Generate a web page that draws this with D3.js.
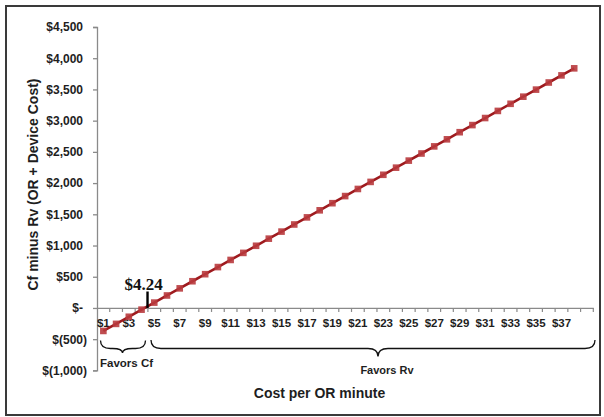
<!DOCTYPE html>
<html>
<head>
<meta charset="utf-8">
<script src="https://cdn.jsdelivr.net/npm/d3@7"></script>
<style>
  html, body { margin: 0; padding: 0; background: #fff; }
  svg { display: block; }
</style>
</head>
<body>
<svg id="chart" width="604" height="417"></svg>
<script>
// ---- data ----
const categories = ["$1","$2","$3","$4","$5","$6","$7","$8","$9","$10",
  "$11","$12","$13","$14","$15","$16","$17","$18","$19","$20",
  "$21","$22","$23","$24","$25","$26","$27","$28","$29","$30",
  "$31","$32","$33","$34","$35","$36","$37","$38",""];
const values = [-368, -255, -141, -27, 86, 200, 314, 428, 541, 655,
  769, 882, 996, 1110, 1223, 1337, 1451, 1564, 1678, 1792,
  1906, 2019, 2133, 2247, 2360, 2474, 2588, 2701, 2815, 2929,
  3042, 3156, 3270, 3384, 3497, 3611, 3725, 3838];
const yTickValues = [-1000, -500, 0, 500, 1000, 1500, 2000, 2500, 3000, 3500, 4000, 4500];
const yTickLabels = ["$(1,000)", "$(500)", "$-", "$500", "$1,000", "$1,500", "$2,000", "$2,500", "$3,000", "$3,500", "$4,000", "$4,500"];
const xLabelCats = ["$1","$3","$5","$7","$9","$11","$13","$15","$17","$19","$21","$23","$25","$27","$29","$31","$33","$35","$37"];
const breakEvenLabel = "$4.24";
const breakEvenPos = 4.47; // position on category axis where the annotation sits
const yTitle = "Cf minus Rv (OR + Device Cost)";
const xTitle = "Cost per OR minute";
const leftBraceLabel = "Favors Cf";
const rightBraceLabel = "Favors Rv";

const SANS = "'Liberation Sans', Arial, sans-serif";
const SERIF = "'Liberation Serif', 'Times New Roman', serif";

// ---- layout ----
const svg = d3.select("#chart");
const plot = { left: 97, right: 593.3, top: 27, bottom: 370.4 };

svg.append("rect").attr("x", 6).attr("y", 6).attr("width", 594).attr("height", 409)
  .attr("fill", "#fff").attr("stroke", "#3a3a3a").attr("stroke-width", 2);

const x = d3.scaleBand().domain(categories).range([plot.left, plot.right]).padding(0);
const bw = x.bandwidth();
const y = d3.scaleLinear().domain([-1000, 4500]).range([plot.bottom, plot.top]);
const cx = c => x(c) + bw / 2;
// numeric category position (1 = "$1")
const xNum = v => plot.left + (v - 0.5) * bw;

// y axis
const yAxis = d3.axisLeft(y).tickValues(yTickValues)
  .tickFormat((d, i) => yTickLabels[i]).tickSize(4).tickPadding(10);
const gy = svg.append("g").attr("transform", `translate(${plot.left},0)`).call(yAxis);
gy.select(".domain").attr("stroke", "#8a8a8a").attr("stroke-width", 1.3);
gy.selectAll(".tick line").attr("stroke", "#8a8a8a").attr("stroke-width", 1.3);
gy.selectAll(".tick text").attr("font-size", 12).attr("font-weight", "bold")
  .attr("fill", "#1e1e1e").attr("font-family", SANS)
  .attr("dx", d => d < 0 ? 4 : 0);

// x axis at zero, labels every other category
const xAxis = d3.axisBottom(x).tickValues(xLabelCats).tickSize(0).tickPadding(11);
const gx = svg.append("g").attr("transform", `translate(0,${y(0)})`).call(xAxis);
gx.select(".domain").attr("stroke", "#8a8a8a").attr("stroke-width", 1.3);
gx.selectAll(".tick text").attr("font-size", 11.5).attr("font-weight", "bold")
  .attr("fill", "#1e1e1e").attr("font-family", SANS);
// tick marks at category boundaries
const boundaries = categories.map(c => x(c)).concat([plot.right]);
gx.selectAll(".bnd").data(boundaries.slice(1)).enter().append("line")
  .attr("x1", d => d).attr("x2", d => d).attr("y1", 0).attr("y2", 4)
  .attr("stroke", "#8a8a8a").attr("stroke-width", 1.2);

// series line
const pts = values.map((v, i) => [cx(categories[i]), y(v)]);
svg.append("path").attr("d", d3.line()(pts))
  .attr("fill", "none").attr("stroke", "#9e1a1e").attr("stroke-width", 2.6);
svg.selectAll(".mk").data(pts).enter().append("rect")
  .attr("x", d => d[0] - 3.3).attr("y", d => d[1] - 3.3)
  .attr("width", 6.6).attr("height", 6.6)
  .attr("fill", "#b83a3d").attr("opacity", 0.9);

// break-even annotation
const bx = xNum(breakEvenPos);
svg.append("line").attr("x1", bx).attr("x2", bx).attr("y1", 291.5).attr("y2", y(0))
  .attr("stroke", "#000").attr("stroke-width", 2.4);
svg.append("text").attr("x", 143.5).attr("y", 289.5).attr("text-anchor", "middle")
  .attr("font-family", SERIF)
  .attr("font-weight", "bold").attr("font-size", 17).attr("fill", "#111")
  .text(breakEvenLabel);

// braces
function brace(x1, x2, xm, y0, ym, yt) {
  const r = Math.min(10, (xm - x1) / 2, (x2 - xm) / 2);
  return `M${x1},${y0} Q${x1},${ym} ${x1 + r},${ym} L${xm - r},${ym} Q${xm},${ym} ${xm},${yt}` +
         ` Q${xm},${ym} ${xm + r},${ym} L${x2 - r},${ym} Q${x2},${ym} ${x2},${y0}`;
}
svg.append("path").attr("d", brace(100.5, 145.5, 122.5, 340.5, 348.5, 353))
  .attr("fill", "none").attr("stroke", "#111").attr("stroke-width", 1.3);
svg.append("path").attr("d", brace(151, 595, 378, 340, 348.5, 356.5))
  .attr("fill", "none").attr("stroke", "#111").attr("stroke-width", 1.3);

svg.append("text").attr("x", 100).attr("y", 367).attr("font-size", 11.5).attr("font-family", SANS)
  .attr("font-weight", "bold").attr("fill", "#1e1e1e").text(leftBraceLabel);
svg.append("text").attr("x", 387).attr("y", 373.5).attr("text-anchor", "middle").attr("font-size", 11)
  .attr("font-family", SANS)
  .attr("font-weight", "bold").attr("fill", "#1e1e1e").text(rightBraceLabel);

// axis titles
svg.append("text").attr("x", 319.5).attr("y", 398).attr("text-anchor", "middle").attr("font-family", SANS)
  .attr("font-size", 14).attr("font-weight", "bold").attr("fill", "#1e1e1e").text(xTitle);
svg.append("text").attr("transform", "translate(38,184.5) rotate(-90)").attr("text-anchor", "middle")
  .attr("font-family", SANS)
  .attr("font-size", 14).attr("font-weight", "bold").attr("fill", "#1e1e1e").text(yTitle);
</script>
</body>
</html>
